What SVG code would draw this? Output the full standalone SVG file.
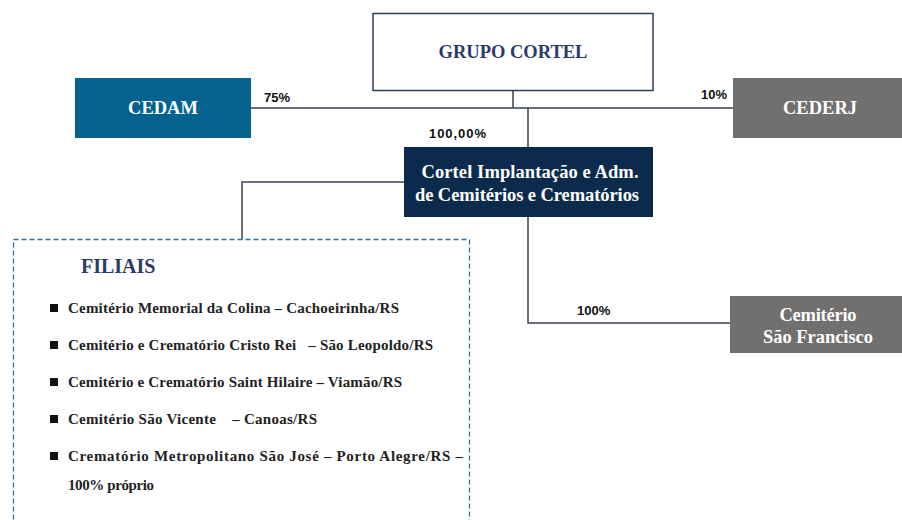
<svg xmlns="http://www.w3.org/2000/svg" width="902" height="520" viewBox="0 0 902 520">
<style>
.serif{font-family:"Liberation Serif","Times New Roman",serif;font-weight:bold}
.lbl{font-family:"Liberation Sans",Arial,sans-serif;font-weight:bold;font-size:13px;fill:#111}
.wt{fill:#fff;font-size:18.5px;text-anchor:middle}
.item{font-size:15px;fill:#222}
.conn{stroke:#3b4352;stroke-width:1.5;fill:none}
</style>
<rect width="902" height="520" fill="#fff"/>
<g id="connectors">
<path class="conn" d="M513 91V108M251 108H733M528 108V147M528 217V323H730M404 182H242V239"/>
</g>
<g id="grupo">
<rect x="373" y="13.5" width="280" height="77" fill="#fff" stroke="#2c3e5c" stroke-width="1.5"/>
<text class="serif" x="513" y="58" text-anchor="middle" font-size="18.5" fill="#2b3a6b">GRUPO CORTEL</text>
</g>
<g id="cedam">
<rect x="75" y="78" width="176" height="60" fill="#04628f"/>
<text class="serif wt" x="163" y="114">CEDAM</text>
</g>
<g id="cederj">
<rect x="733" y="78" width="169" height="60" fill="#72706f"/>
<text class="serif wt" x="820" y="114">CEDERJ</text>
</g>
<g id="cortel">
<rect x="404" y="147" width="249" height="70" fill="#0b2a4c"/>
<text class="serif wt" x="530" y="178" textLength="217">Cortel Implantação e Adm.</text>
<text class="serif wt" x="527" y="201" textLength="224">de Cemitérios e Crematórios</text>
</g>
<g id="saofrancisco">
<rect x="730" y="296" width="172" height="57" fill="#72706f"/>
<text class="serif wt" x="818" y="321" textLength="77">Cemitério</text>
<text class="serif wt" x="818" y="343" textLength="110">São Francisco</text>
</g>
<g id="labels">
<text class="lbl" x="264" y="102">75%</text>
<text class="lbl" x="701" y="99">10%</text>
<text class="lbl" x="429" y="138" textLength="57">100,00%</text>
<text class="lbl" x="577" y="315">100%</text>
</g>
<g id="filiais">
<rect x="13.5" y="239.5" width="456" height="300" fill="none" stroke="#2e6e9e" stroke-width="1.3" stroke-dasharray="5,3"/>
<text class="serif" x="81" y="273" font-size="20" fill="#2b3a6b">FILIAIS</text>
<g fill="#111">
<rect x="50" y="304" width="8" height="8"/>
<rect x="50" y="341" width="8" height="8"/>
<rect x="50" y="378" width="8" height="8"/>
<rect x="50" y="415" width="8" height="8"/>
<rect x="50" y="452" width="8" height="8"/>
</g>
<text class="serif item" x="68" y="313" textLength="331">Cemitério Memorial da Colina – Cachoeirinha/RS</text>
<text class="serif item" x="68" y="350" xml:space="preserve" textLength="365">Cemitério e Crematório Cristo Rei   – São Leopoldo/RS</text>
<text class="serif item" x="68" y="387" textLength="334">Cemitério e Crematório Saint Hilaire – Viamão/RS</text>
<text class="serif item" x="68" y="424" xml:space="preserve" textLength="249">Cemitério São Vicente    – Canoas/RS</text>
<text class="serif item" x="68" y="461" textLength="395">Crematório Metropolitano São José – Porto Alegre/RS –</text>
<text class="serif item" x="68" y="490" textLength="86">100% próprio</text>
</g>
</svg>
